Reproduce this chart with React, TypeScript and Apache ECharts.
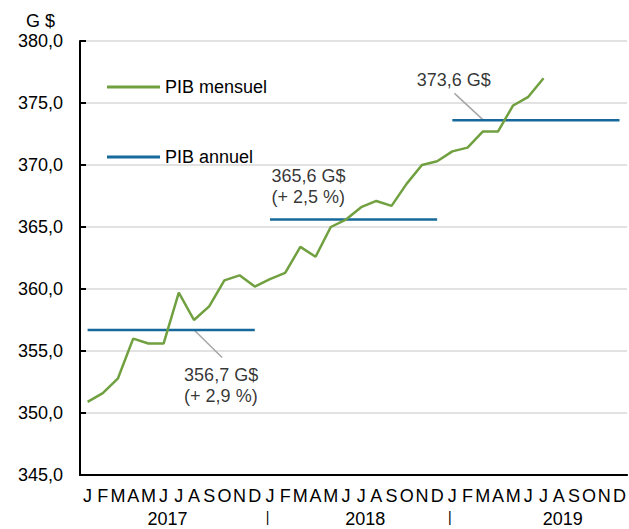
import React, { useEffect, useRef } from "react";
import * as echarts from "echarts";

// ---- Data ----
const monthLetters = ["J", "F", "M", "A", "M", "J", "J", "A", "S", "O", "N", "D"];
const years = [2017, 2018, 2019];
const monthlyGDP = [
  350.9, 351.6, 352.8, 356.0, 355.6, 355.6, 359.7, 357.5, 358.6, 360.7, 361.1, 360.2,
  360.8, 361.3, 363.4, 362.6, 365.0, 365.6, 366.6, 367.1, 366.7, 368.5, 370.0, 370.3,
  371.1, 371.4, 372.7, 372.7, 374.8, 375.5, 377.0,
];
const annualGDP = [356.7, 365.6, 373.6];
const annualLabels = ["356,7 G$\n(+ 2,9 %)", "365,6 G$\n(+ 2,5 %)", "373,6 G$"];
const yearAxisLabels: Record<number, string> = { 5: "2017", 12: "|", 18: "2018", 24: "|", 31: "2019" };
const yMin = 345;
const yMax = 380;
const yInterval = 5;

// ---- Layout of annotations (in axis units: x = months from start, y = G$) ----
const annotationAnchors: [number, number][] = [
  [6.85, 352.23],
  [12.6, 368.23],
  [22.16, 376.88],
];
const leaderLines: ([number, number][] | null)[] = [
  [[7.51, 356.7], [9.35, 354.48]],
  null,
  [[24.64, 375.78], [26.56, 373.6]],
];

const GREEN = "#70A03F";
const BLUE = "#17699B";
const FONT = "'Liberation Sans', Arial, sans-serif";

export default function App() {
  const ref = useRef<HTMLDivElement>(null);

  useEffect(() => {
    if (!ref.current) return;
    const chart = echarts.init(ref.current, undefined, { renderer: "svg" });

    const categories: string[] = [];
    years.forEach((y) => monthLetters.forEach((_, m) => categories.push(`${y}-${m + 1}`)));
    const n = categories.length;

    const monthlyData = categories.map((_, i) => (i < monthlyGDP.length ? monthlyGDP[i] : null));

    const annualSeries = annualGDP.map((v, k) => ({
      name: "PIB annuel",
      type: "line",
      xAxisIndex: 0,
      yAxisIndex: 0,
      data: categories.map((_, i) => (Math.floor(i / 12) === k ? v : null)),
      symbol: "none",
      lineStyle: { color: BLUE, width: 2.5 },
      itemStyle: { color: BLUE },
      color: BLUE,
      z: 2,
    }));

    const leaderSeries = leaderLines
      .filter((l) => l !== null)
      .map((l, k) => ({
        name: `leader${k}`,
        type: "line",
        xAxisIndex: 2,
        yAxisIndex: 0,
        data: l as [number, number][],
        symbol: "none",
        silent: true,
        lineStyle: { color: "#A6A6A6", width: 1.5 },
        z: 1,
      }));

    const labelSeries = {
      name: "annotations",
      type: "scatter",
      xAxisIndex: 2,
      yAxisIndex: 0,
      symbolSize: 0,
      silent: true,
      data: annotationAnchors.map((p, k) => ({
        value: p,
        label: {
          show: true,
          position: "right",
          distance: 0,
          formatter: annualLabels[k],
          align: "left",
          verticalAlign: "middle",
          color: "#000",
          fontSize: 18,
          lineHeight: 21,
          fontFamily: FONT,
        },
      })),
    };

    const option: any = {
      animation: false,
      backgroundColor: "#fff",
      textStyle: { fontFamily: FONT },
      title: {
        text: "G $",
        left: 26,
        top: 12,
        padding: 0,
        textStyle: { fontSize: 18, fontWeight: "normal", color: "#000", fontFamily: FONT },
      },
      legend: {
        orient: "vertical",
        left: 107,
        top: 78,
        padding: 0,
        itemGap: 52,
        itemWidth: 53,
        itemHeight: 3,
        textStyle: { fontSize: 18, color: "#000", fontFamily: FONT },
        data: [
          { name: "PIB mensuel", icon: "rect", itemStyle: { color: GREEN } },
          { name: "PIB annuel", icon: "rect", itemStyle: { color: BLUE } },
        ],
        selectedMode: false,
      },
      grid: { left: 80, right: 1, top: 41, bottom: 54 },
      xAxis: [
        {
          type: "category",
          data: categories,
          boundaryGap: true,
          axisLine: { show: true, lineStyle: { color: "#000", width: 2 } },
          axisTick: { show: false },
          axisLabel: {
            interval: 0,
            margin: 12,
            fontSize: 18,
            color: "#000",
            fontFamily: FONT,
            formatter: (_v: string, i: number) => monthLetters[i % 12],
          },
          splitLine: { show: false },
        },
        {
          type: "category",
          data: categories,
          position: "bottom",
          boundaryGap: true,
          axisLine: { show: false },
          axisTick: { show: false },
          axisLabel: {
            interval: 0,
            margin: 35,
            fontSize: 18,
            color: "#000",
            fontFamily: FONT,
            formatter: (_v: string, i: number) => {
              const t = yearAxisLabels[i];
              if (!t) return "";
              return t === "|" ? `{bar|${t}}` : `{yr|${t}}`;
            },
            rich: {
              yr: { fontSize: 18, color: "#000", fontFamily: FONT, padding: [0, 0, 0, 8] },
              bar: { fontSize: 14, color: "#000", fontFamily: FONT, padding: [0, 5, 3, 0] },
            },
          },
          splitLine: { show: false },
        },
        {
          type: "value",
          min: 0,
          max: n,
          show: false,
        },
      ],
      yAxis: {
        type: "value",
        min: yMin,
        max: yMax,
        interval: yInterval,
        axisLine: { show: true, lineStyle: { color: "#000", width: 2 } },
        axisTick: { show: true, inside: true, length: 6, lineStyle: { color: "#000", width: 2 } },
        axisLabel: {
          margin: 17,
          fontSize: 18,
          color: "#000",
          fontFamily: FONT,
          formatter: (v: number) => v.toFixed(1).replace(".", ","),
        },
        splitLine: { show: true, lineStyle: { color: "#D9D9D9", width: 1.5 } },
      },
      series: [
        ...leaderSeries,
        ...annualSeries,
        {
          name: "PIB mensuel",
          type: "line",
          xAxisIndex: 0,
          yAxisIndex: 0,
          data: monthlyData,
          symbol: "none",
          color: GREEN,
          lineStyle: { color: GREEN, width: 2.5 },
          itemStyle: { color: GREEN },
          z: 3,
        },
        labelSeries,
      ],
    };

    chart.setOption(option);
    return () => chart.dispose();
  }, []);

  return (
    <div
      ref={ref}
      style={{ position: "absolute", left: 0, top: 0, width: 629, height: 529, background: "#fff" }}
    />
  );
}
